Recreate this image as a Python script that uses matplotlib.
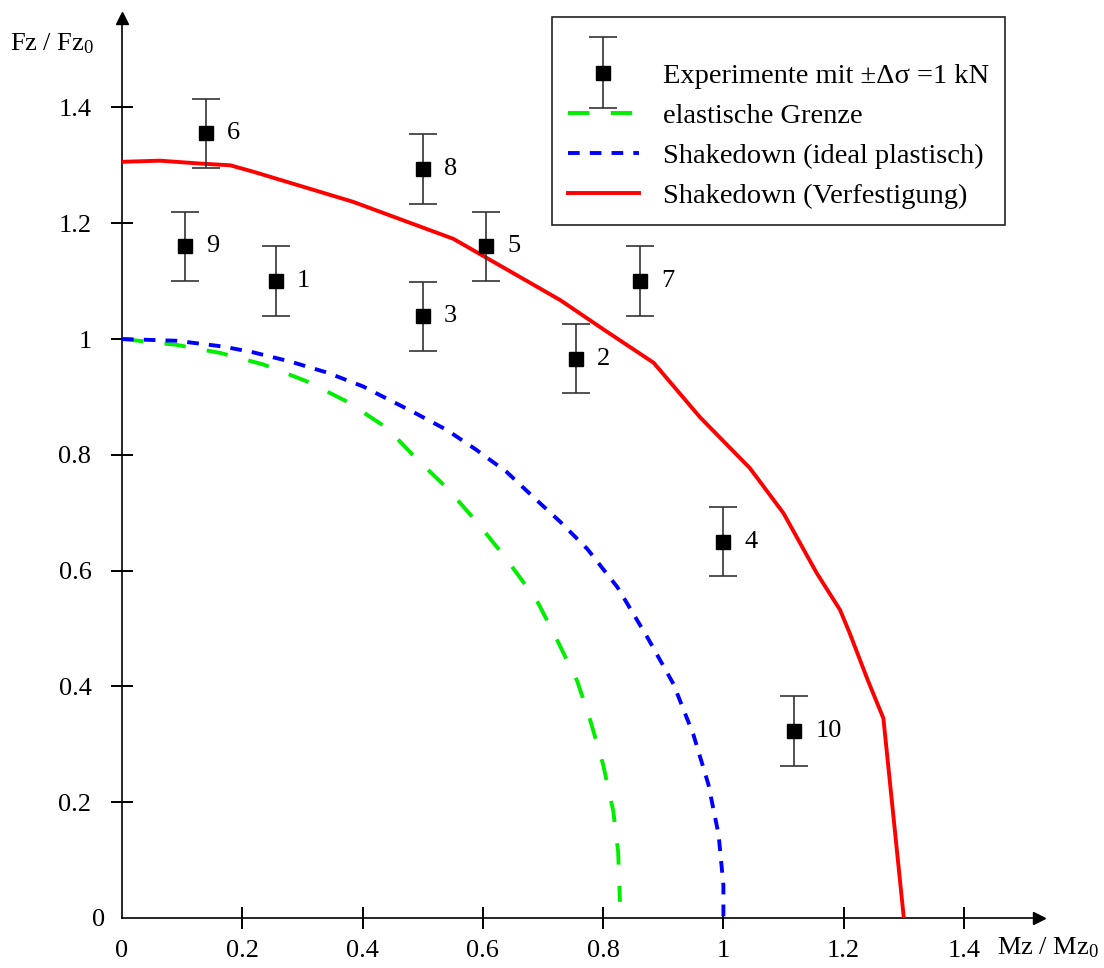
import matplotlib
matplotlib.use("Agg")
import matplotlib.pyplot as plt
from matplotlib.legend_handler import HandlerErrorbar
from matplotlib.ticker import FormatStrFormatter
from matplotlib.transforms import ScaledTranslation

plt.rcParams['font.family'] = ['Liberation Serif', 'DejaVu Serif']
plt.rcParams['mathtext.fontset'] = 'custom'
plt.rcParams['mathtext.rm'] = 'Liberation Serif'
plt.rcParams['mathtext.it'] = 'Liberation Serif:italic'

FS = 19

# Versuchspunkte (Mz/Mz0, Fz/Fz0)
exp_x = [0.14, 0.105, 0.256, 0.50, 0.50, 0.606, 0.755, 0.862, 1.00, 1.118]
exp_y = [1.355, 1.16, 1.10, 1.294, 1.039, 1.16, 0.966, 1.10, 0.65, 0.323]
exp_err = 0.06
exp_labels = ['6', '9', '1', '8', '3', '5', '2', '7', '4', '10']

# elastische Grenze
el_x = [0.0, 0.09, 0.163, 0.235, 0.307, 0.374, 0.441, 0.487, 0.54, 0.59,
        0.637, 0.69, 0.724, 0.757, 0.779, 0.80, 0.817, 0.825, 0.828]
el_y = [1.0, 0.99, 0.976, 0.956, 0.927, 0.892, 0.846, 0.796, 0.743, 0.684,
        0.623, 0.548, 0.479, 0.409, 0.34, 0.265, 0.184, 0.114, 0.028]

# Shakedown (ideal plastisch)
sd_x = [0.0, 0.09, 0.168, 0.218, 0.28, 0.341, 0.401, 0.429, 0.484, 0.54,
        0.59, 0.64, 0.684, 0.729, 0.774, 0.824, 0.874, 0.917, 0.95, 0.975,
        0.992, 1.0, 1.0]
sd_y = [1.0, 0.997, 0.987, 0.977, 0.961, 0.942, 0.918, 0.903, 0.874, 0.843,
        0.808, 0.77, 0.727, 0.684, 0.637, 0.571, 0.484, 0.404, 0.317, 0.231,
        0.144, 0.057, 0.0]

# Shakedown (Verfestigung)
vf_x = [0.0, 0.063, 0.13, 0.18, 0.218, 0.384, 0.551, 0.729, 0.80, 0.884,
        0.961, 1.044, 1.10, 1.155, 1.194, 1.21, 1.24, 1.266, 1.30]
vf_y = [1.306, 1.308, 1.303, 1.30, 1.289, 1.237, 1.173, 1.067, 1.017, 0.959,
        0.865, 0.777, 0.699, 0.596, 0.532, 0.492, 0.411, 0.345, 0.0]

ticks = [0, 0.2, 0.4, 0.6, 0.8, 1.0, 1.2, 1.4]

XMAX, YMAX = 1.525, 1.555
fig = plt.figure(figsize=(11.04, 9.68), dpi=100)
ax = fig.add_axes([122 / 1104, 50 / 968, XMAX * 601.4 / 1104, YMAX * 579 / 968])

ax.plot(el_x, el_y, color='#00ee00', lw=2.8, dashes=(5.5, 5.5),
        label='elastische Grenze', zorder=3)
ax.plot(sd_x, sd_y, color='#0000ff', lw=2.8, dashes=(3, 2.6),
        label='Shakedown (ideal plastisch)', zorder=3)
ax.plot(vf_x, vf_y, color='#ff0000', lw=2.8,
        label='Shakedown (Verfestigung)', zorder=3)
eb = ax.errorbar(exp_x, exp_y, yerr=exp_err, fmt='s', color='black', ms=10.5,
                 ecolor='#333333', elinewidth=1.2, capsize=10, capthick=1.2,
                 label='Experimente mit \u00b1\u0394\u03c3 =1 kN', zorder=4)

for x, y, t in zip(exp_x, exp_y, exp_labels):
    ax.annotate(t, (x, y), xytext=(15, 0), textcoords='offset points',
                ha='left', va='center', fontsize=FS)

ax.set_xlim(0, XMAX)
ax.set_ylim(0, YMAX)
ax.spines['top'].set_visible(False)
ax.spines['right'].set_visible(False)
for s in ('left', 'bottom'):
    ax.spines[s].set_linewidth(1.2)

ax.set_xticks(ticks)
ax.set_yticks(ticks)
ax.xaxis.set_major_formatter(FormatStrFormatter('%g'))
ax.yaxis.set_major_formatter(FormatStrFormatter('%g'))
ax.tick_params(direction='inout', length=16, width=1.4, labelsize=FS)
ax.tick_params(axis='x', pad=8)
ax.tick_params(axis='y', pad=14)
ax.xaxis.get_major_ticks()[0].tick1line.set_visible(False)
y0 = ax.yaxis.get_major_ticks()[0]
y0.tick1line.set_visible(False)
y0.label1.set_transform(y0.label1.get_transform()
                        + ScaledTranslation(0.14, 0, fig.dpi_scale_trans))

# Pfeilspitzen
ax.plot(1, 0, '>', color='black', ms=9, transform=ax.transAxes, clip_on=False)
ax.plot(0, 1, '^', color='black', ms=9, transform=ax.transAxes, clip_on=False)

fig.text(10 / 1104, 1 - 44 / 968, 'Fz / Fz$_0$', fontsize=FS, va='center', ha='left')
fig.text(997 / 1104, 1 - 948 / 968, 'Mz / Mz$_0$', fontsize=FS, va='center', ha='left')

handles, labels = ax.get_legend_handles_labels()
order = [3, 0, 1, 2]
leg = ax.legend([handles[i] for i in order], [labels[i] for i in order],
                loc='upper right', bbox_to_anchor=(1005 / 1104, 1 - 17 / 968),
                bbox_transform=fig.transFigure,
                borderaxespad=0, fontsize=20.5, handlelength=2.5, handletextpad=0.85,
                borderpad=0.55, labelspacing=0.5, fancybox=False, framealpha=1,
                edgecolor='#222222', title=' ', title_fontsize=12,
                handler_map={type(eb): HandlerErrorbar(yerr_size=1.25)})
leg.get_frame().set_linewidth(1.2)

fig.savefig('out.png', dpi=100)
